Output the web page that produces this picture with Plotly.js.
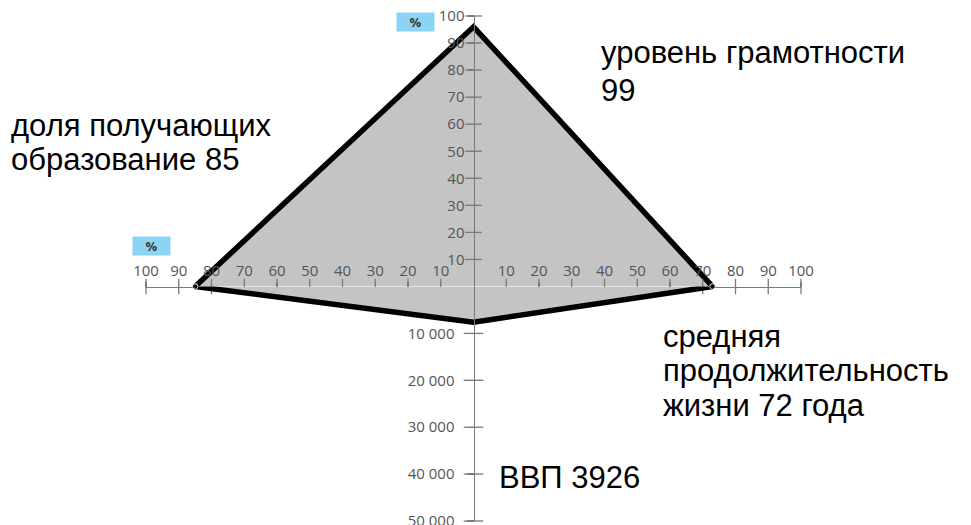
<!DOCTYPE html>
<html>
<head>
<meta charset="utf-8">
<script src="https://cdn.plot.ly/plotly-3.0.1.min.js"></script>
<style>html,body{margin:0;padding:0;background:#fff;}</style>
</head>
<body>
<div id="chart" style="width:971px;height:525px;"></div>
<script>
// ---- data ----
const percentTicks = [10, 20, 30, 40, 50, 60, 70, 80, 90, 100];
const gdpTicks = [10000, 20000, 30000, 40000, 50000];
const percentTickText = ['10', '20', '30', '40', '50', '60', '70', '80', '90', '100'];

// plotted positions of the polygon vertices
const literacyValue = 96;    // up axis, %
const lifeValue = 73;        // right axis, years
const gdpValue = 7600;       // down axis
const educationValue = 85;   // left axis, %

// text labels as written on the chart
const literacyLines = ['уровень грамотности', '99'];
const educationLines = ['доля получающих', 'образование 85'];
const lifeLines = ['средняя', 'продолжительность', 'жизни 72 года'];
const gdpLines = ['ВВП 3926'];
const unitLabel = '%';

// ---- geometry (pixels in 971x525) ----
const W = 971, H = 525;
const cx = 473.5, cy = 286.5;
const px = v => v / W, py = v => 1 - v / H;

const axisColor = '#7a7a7a';
const tickFont = {family: 'Open Sans, sans-serif', size: 15, color: '#555555'};
const fillGray = '#c4c4c4';

const traces = [
  {
    x: [-educationValue, 0, lifeValue], y: [0, literacyValue, 0],
    xaxis: 'x', yaxis: 'y', mode: 'lines+markers', fill: 'toself', fillcolor: fillGray,
    line: {color: '#000', width: 5.5}, marker: {size: [5.5, 0, 5.5], color: '#000'},
    cliponaxis: false, hoverinfo: 'skip'
  },
  {
    x: [-educationValue, 0, lifeValue], y: [0, gdpValue, 0],
    xaxis: 'x', yaxis: 'y2', mode: 'lines+markers', fill: 'toself', fillcolor: fillGray,
    line: {color: '#000', width: 5.5}, marker: {size: [5.5, 0, 5.5], color: '#000'},
    cliponaxis: false, hoverinfo: 'skip'
  },
  {
    x: percentTicks.map(v => -v).concat(percentTicks), y: percentTicks.concat(percentTicks).map(() => 0),
    xaxis: 'x', yaxis: 'y', mode: 'markers',
    marker: {symbol: 'line-ns', size: 11, line: {width: 1.3, color: axisColor}},
    cliponaxis: false, hoverinfo: 'skip'
  },
  {
    x: percentTicks.map(() => 0), y: percentTicks,
    xaxis: 'x', yaxis: 'y', mode: 'markers',
    marker: {symbol: 'line-ew', size: 12, line: {width: 1.3, color: axisColor}},
    cliponaxis: false, hoverinfo: 'skip'
  },
  {
    x: gdpTicks.map(() => 0), y: gdpTicks,
    xaxis: 'x', yaxis: 'y2', mode: 'markers',
    marker: {symbol: 'line-ew', size: 14, line: {width: 1.3, color: axisColor}},
    cliponaxis: false, hoverinfo: 'skip'
  }
];

const bigFont = {family: 'Liberation Sans, Arial, sans-serif', size: 31, color: '#000'};
function lineAnn(text, xPix, yCenterPix) {
  return {text: text, xref: 'paper', yref: 'paper', x: px(xPix), y: py(yCenterPix),
          xanchor: 'left', yanchor: 'middle', showarrow: false, font: bigFont, borderpad: 0};
}
const unitFont = {family: 'Open Sans, sans-serif', size: 13, color: '#3a3a3a'};
const annotations = [
  lineAnn(literacyLines[0], 600, 53),
  lineAnn(literacyLines[1], 600, 90.5),
  lineAnn(educationLines[0], 10, 125),
  lineAnn(educationLines[1], 10, 159.8),
  lineAnn(lifeLines[0], 662, 336.2),
  lineAnn(lifeLines[1], 662, 370.6),
  lineAnn(lifeLines[2], 662, 405.2),
  lineAnn(gdpLines[0], 498, 477.2),
  {text: '<b>' + unitLabel + '</b>', xref: 'paper', yref: 'paper', x: px(415.8), y: py(22.5),
   xanchor: 'center', yanchor: 'middle', showarrow: false, width: 35, height: 16, borderpad: 1,
   bgcolor: '#8dd3f5', font: unitFont},
  {text: '<b>' + unitLabel + '</b>', xref: 'paper', yref: 'paper', x: px(151), y: py(245.8),
   xanchor: 'center', yanchor: 'middle', showarrow: false, width: 35, height: 16, borderpad: 1,
   bgcolor: '#8dd3f5', font: unitFont}
];

const layout = {
  width: W, height: H,
  margin: {l: 0, r: 0, t: 0, b: 0},
  paper_bgcolor: '#fff', plot_bgcolor: 'rgba(0,0,0,0)',
  showlegend: false,
  separators: '. ',
  xaxis: {
    domain: [px(146), px(801)], range: [-100, 100],
    anchor: 'free', position: py(cy), side: 'top',
    showline: true, linecolor: axisColor, linewidth: 1.3,
    showgrid: false, zeroline: false, fixedrange: true,
    tickmode: 'array',
    tickvals: percentTicks.map(v => -v).concat(percentTicks),
    ticktext: percentTickText.concat(percentTickText),
    ticks: 'outside', ticklen: 5, tickwidth: 1.3, tickcolor: axisColor,
    ticklabeloverflow: 'allow',
    tickfont: tickFont
  },
  yaxis: {
    domain: [py(cy), py(16)], range: [0, 100],
    anchor: 'free', position: px(cx), side: 'left',
    showline: true, linecolor: axisColor, linewidth: 1.3,
    showgrid: false, zeroline: false, fixedrange: true,
    tickmode: 'array', tickvals: percentTicks, ticktext: percentTickText,
    ticks: 'outside', ticklen: 6, tickwidth: 1.3, tickcolor: axisColor,
    ticklabeloverflow: 'allow',
    tickfont: tickFont
  },
  yaxis2: {
    domain: [py(521), py(cy)], range: [50000, 0],
    anchor: 'free', position: px(cx), side: 'left',
    showline: true, linecolor: axisColor, linewidth: 1.3,
    showgrid: false, zeroline: false, fixedrange: true,
    tickmode: 'array', tickvals: gdpTicks, tickformat: ',d',
    ticks: 'outside', ticklen: 7, tickwidth: 1.3, tickcolor: axisColor,
    ticklabelstandoff: 9, ticklabeloverflow: 'allow',
    tickfont: tickFont
  },
  annotations: annotations
};

Plotly.newPlot('chart', traces, layout, {staticPlot: true, displayModeBar: false});
</script>
</body>
</html>
